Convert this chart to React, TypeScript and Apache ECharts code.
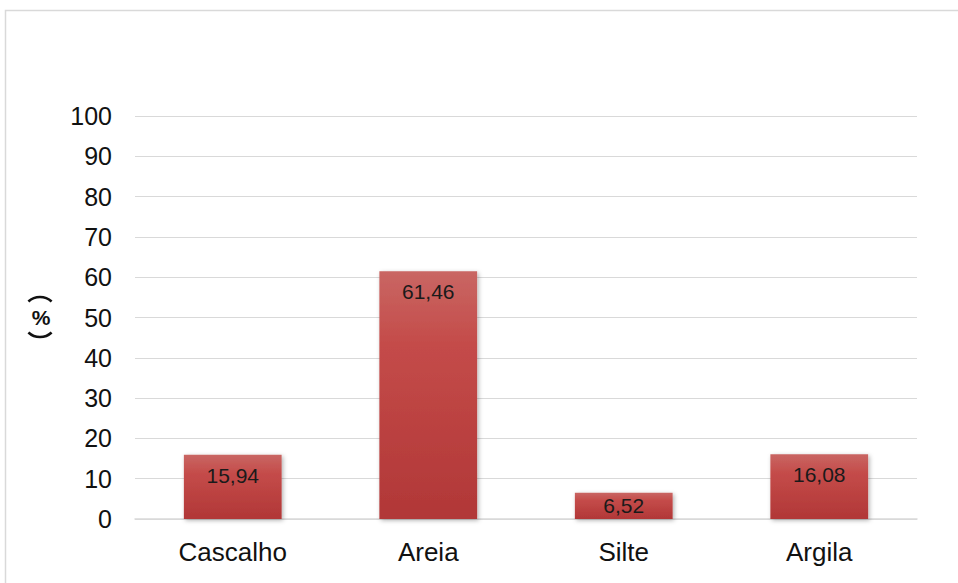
import React, { useEffect, useRef } from "react";
import * as echarts from "echarts";

const categories = ["Cascalho", "Areia", "Silte", "Argila"];
const values = [15.94, 61.46, 6.52, 16.08];
const yTicks = [0, 10, 20, 30, 40, 50, 60, 70, 80, 90, 100];
const FONT = "Liberation Sans, Arial, sans-serif";

const deg = (d: number) => (d * Math.PI) / 180;

export default function App() {
  const ref = useRef<HTMLDivElement>(null);
  useEffect(() => {
    document.body.style.margin = "0";
    const chart = echarts.init(ref.current!, null, { renderer: "svg" });
    const data = values.map((v) =>
      v < 10 ? { value: v, label: { position: "inside", distance: 0 } } : { value: v }
    );
    chart.setOption({
      animation: false,
      backgroundColor: "#ffffff",
      graphic: [
        {
          type: "rect",
          shape: { x: 5.5, y: 10.5, width: 960, height: 590 },
          style: { fill: "none", stroke: "#d9d9d9", lineWidth: 1.5 },
          silent: true,
        },
        {
          type: "arc",
          shape: { cx: 40, cy: 314, r: 17, startAngle: deg(-133), endAngle: deg(-47) },
          style: { stroke: "#111", lineWidth: 2.6, fill: "none" },
          silent: true,
        },
        {
          type: "text",
          x: 41,
          y: 317,
          style: {
            text: "%",
            font: `bold 21px ${FONT}`,
            fill: "#111",
            align: "center",
            verticalAlign: "middle",
          },
          silent: true,
        },
        {
          type: "arc",
          shape: { cx: 40, cy: 320, r: 17, startAngle: deg(47), endAngle: deg(133) },
          style: { stroke: "#111", lineWidth: 2.6, fill: "none" },
          silent: true,
        },
      ],
      grid: { left: 135, right: 41, top: 116, bottom: 64 },
      xAxis: {
        type: "category",
        data: categories,
        axisLine: { lineStyle: { color: "#d9d9d9", width: 1.5 } },
        axisTick: { show: false },
        axisLabel: {
          color: "#111",
          fontSize: 26,
          fontFamily: FONT,
          margin: 20,
        },
      },
      yAxis: {
        type: "value",
        min: yTicks[0],
        max: yTicks[yTicks.length - 1],
        interval: 10,
        axisLine: { show: false },
        axisTick: { show: false },
        splitLine: { lineStyle: { color: "#d9d9d9", width: 1 } },
        axisLabel: {
          color: "#111",
          fontSize: 25,
          fontFamily: FONT,
          margin: 23,
        },
      },
      series: [
        {
          type: "bar",
          data,
          barWidth: "50%",
          itemStyle: {
            color: new echarts.graphic.LinearGradient(0, 0, 0, 1, [
              { offset: 0, color: "#c96663" },
              { offset: 0.3, color: "#c44b49" },
              { offset: 1, color: "#b13737" },
            ]),
            shadowBlur: 4,
            shadowColor: "rgba(0,0,0,0.3)",
            shadowOffsetX: 1.5,
            shadowOffsetY: 1.5,
          },
          label: {
            show: true,
            position: "insideTop",
            distance: 10,
            color: "#1a1a1a",
            fontSize: 21,
            fontFamily: FONT,
            formatter: (p: any) => String(p.value.toFixed(2)).replace(".", ","),
          },
        },
      ],
    });
    return () => chart.dispose();
  }, []);
  return <div ref={ref} style={{ width: 958, height: 583 }} />;
}
